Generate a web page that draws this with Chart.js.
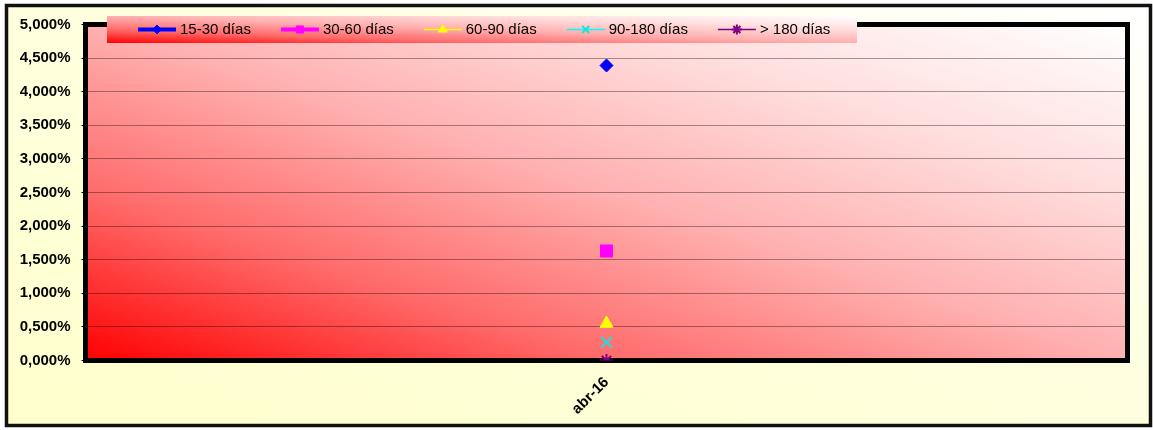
<!DOCTYPE html>
<html>
<head>
<meta charset="utf-8">
<script src="https://cdn.jsdelivr.net/npm/chart.js@4.4.0/dist/chart.umd.min.js"></script>
<style>
  html, body { margin: 0; padding: 0; background: #ffffff; }
  #wrap { width: 1153px; height: 430px; position: relative; }
</style>
</head>
<body>
<div id="wrap"><canvas id="c" width="1153" height="430"></canvas></div>
<script>
// ---- data ----
const categories = ['abr-16'];
const seriesNames = ['15-30 días', '30-60 días', '60-90 días', '90-180 días', '> 180 días'];
const s15_30 = [4.39];
const s30_60 = [1.63];
const s60_90 = [0.55];
const s90_180 = [0.27];
const s180 = [0.00];
const yMin = 0, yMax = 5, yStep = 0.5;

const FONT = "'Liberation Sans', Arial, sans-serif";

function diagGradient(ctx, l, t, r, b, stops) {
  const W = r - l, H = b - t;
  const L2 = W * W + H * H;
  const k = 2 * W * H / L2;
  const g = ctx.createLinearGradient(l, b, l + H * k, b - W * k);
  stops.forEach(s => g.addColorStop(s[0], s[1]));
  return g;
}
const redStops = [[0, '#ff0000'], [0.25, '#ff6a6a'], [0.5, '#ffb0b0'], [0.75, '#ffdede'], [1, '#ffffff']];

const bgPlugin = {
  id: 'bgPlugin',
  beforeDraw(chart) {
    const ctx = chart.ctx;
    const w = chart.width, h = chart.height;
    ctx.save();
    ctx.fillStyle = '#ffffff';
    ctx.fillRect(0, 0, w, h);
    ctx.fillStyle = diagGradient(ctx, 7, 6, 1150, 425, [[0, '#ffffcc'], [0.6, '#ffffe2'], [1, '#ffffff']]);
    ctx.fillRect(7, 6, 1143, 419);
    ctx.lineWidth = 3.5;
    ctx.strokeStyle = '#111111';
    ctx.strokeRect(6.5, 5.5, 1144, 420);
    const a = chart.chartArea;
    ctx.fillStyle = diagGradient(ctx, a.left, a.top, a.right, a.bottom, redStops);
    ctx.fillRect(a.left, a.top, a.right - a.left, a.bottom - a.top);
    ctx.restore();
  },
  beforeDatasetsDraw(chart) {
    const ctx = chart.ctx;
    const a = chart.chartArea;
    ctx.save();
    ctx.lineWidth = 5;
    ctx.strokeStyle = '#000000';
    ctx.strokeRect(a.left, a.top, a.right - a.left, a.bottom - a.top);
    ctx.restore();
  },
  afterDraw(chart) {
    const ctx = chart.ctx;
    const bx = 107, by = 16, bw = 750, bh = 27;
    ctx.save();
    ctx.fillStyle = diagGradient(ctx, bx, by, bx + bw, by + bh, redStops);
    ctx.fillRect(bx, by, bw, bh);
    ctx.font = '15px ' + FONT;
    ctx.textBaseline = 'middle';
    ctx.fillStyle = '#000000';
    const cy = by + 13.5;
    let x = 138;
    chart.data.datasets.forEach(ds => {
      const sampleLen = 38;
      ctx.beginPath();
      ctx.strokeStyle = ds.legendLineColor || ds.borderColor;
      ctx.lineWidth = ds.legendLineWidth;
      ctx.moveTo(x, cy);
      ctx.lineTo(x + sampleLen, cy);
      ctx.stroke();
      ctx.fillStyle = ds.backgroundColor;
      ctx.strokeStyle = ds.borderColor;
      ctx.lineWidth = ds.pointBorderWidth;
      Chart.helpers.drawPoint(ctx, {
        pointStyle: ds.pointStyle,
        radius: ds.legendRadius,
        rotation: 0,
        borderWidth: ds.pointBorderWidth
      }, x + sampleLen / 2, cy);
      ctx.fillStyle = '#000000';
      ctx.fillText(ds.label, x + sampleLen + 4, cy + 0.5);
      x += sampleLen + 4 + ctx.measureText(ds.label).width + 30;
    });
    ctx.restore();
  }
};

const datasets = [
  { label: seriesNames[0], data: s15_30, pointStyle: 'rectRot', borderColor: '#0000ff', backgroundColor: '#0000ff',
    pointRadius: 6.5, pointBorderWidth: 1, legendRadius: 4.5, legendLineWidth: 4 },
  { label: seriesNames[1], data: s30_60, pointStyle: 'rect', borderColor: '#ff00ff', backgroundColor: '#ff00ff',
    pointRadius: 8.5, pointBorderWidth: 1, legendRadius: 5, legendLineWidth: 4 },
  { label: seriesNames[2], data: s60_90, pointStyle: 'triangle', borderColor: '#ffff00', backgroundColor: '#ffff00',
    pointRadius: 7.5, pointBorderWidth: 1, legendRadius: 5, legendLineWidth: 1.5 },
  { label: seriesNames[3], data: s90_180, pointStyle: 'crossRot', borderColor: '#1ee0e0', backgroundColor: '#1ee0e0',
    legendLineColor: '#00ffff', pointRadius: 7.5, pointBorderWidth: 2, legendRadius: 5, legendLineWidth: 1.5 },
  { label: seriesNames[4], data: s180, pointStyle: 'star', borderColor: '#800080', backgroundColor: '#800080',
    pointRadius: 6.5, pointBorderWidth: 2, legendRadius: 5, legendLineWidth: 1.5 }
];

new Chart(document.getElementById('c'), {
  type: 'line',
  data: { labels: categories, datasets: datasets.map(d => Object.assign({ showLine: false, pointHoverRadius: d.pointRadius }, d)) },
  plugins: [bgPlugin],
  options: {
    responsive: false,
    animation: false,
    devicePixelRatio: 1,
    layout: { padding: { top: 24.5, right: 25.5, left: 0, bottom: 0 } },
    plugins: { legend: { display: false }, tooltip: { enabled: false } },
    scales: {
      x: {
        type: 'category',
        offset: true,
        grid: { display: false },
        border: { display: false },
        ticks: { color: '#000', font: { family: FONT, size: 15, weight: 'bold' }, minRotation: 45, maxRotation: 45, padding: 5 },
        afterFit(scale) { scale.height = 430 - 360.5; }
      },
      y: {
        min: yMin, max: yMax,
        grid: { color: 'rgba(0,0,0,0.36)', lineWidth: 1, tickLength: 4, tickColor: '#000' },
        border: { display: false },
        ticks: {
          stepSize: yStep,
          color: '#000',
          padding: 11,
          font: { family: FONT, size: 15, weight: 'bold' },
          callback: v => v.toFixed(3).replace('.', ',') + '%'
        },
        afterFit(scale) { scale.width = 85.5; }
      }
    }
  }
});
</script>
</body>
</html>
